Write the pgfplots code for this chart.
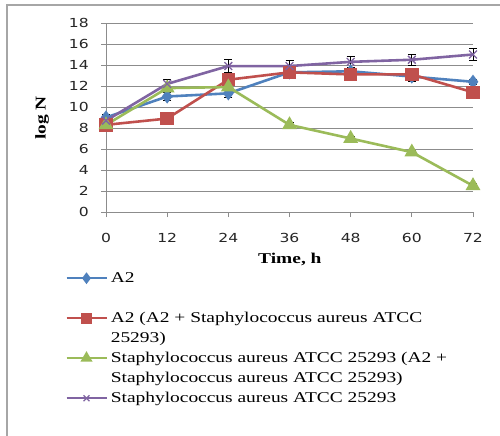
\documentclass[border=0pt]{standalone}
\usepackage{pgfplots}
\pgfplotsset{compat=1.18}
\usepackage{fontspec}
\setmainfont{Liberation Serif}[FakeStretch=1.3]
\newfontfamily\tickfont{DejaVu Sans}[FakeStretch=1.25]
\definecolor{sblue}{HTML}{4F81BD}
\definecolor{sred}{HTML}{C0504D}
\definecolor{sgreen}{HTML}{9BBB59}
\definecolor{spurple}{HTML}{8064A2}
\definecolor{gridgray}{HTML}{8C8C8C}
\pgfplotstableread{
x y e
0 9.0 0.3
12 11.0 0.4
24 11.3 0.4
36 13.3 0.2
48 13.4 0.2
60 12.9 0.5
72 12.4 0.2
}\blueA
\pgfplotstableread{
x y e
0 8.3 0.0
12 8.9 0.0
24 12.6 0.0
36 13.3 0.2
48 13.1 0.3
60 13.1 0.3
72 11.4 0.0
}\redB
\pgfplotstableread{
x y e
0 8.3 0.2
12 11.8 0.2
24 11.9 0.2
36 8.3 0.2
48 7.0 0.2
60 5.7 0.2
72 2.5 0.2
}\greenC
\pgfplotstableread{
x y e
0 8.7 0.2
12 12.2 0.4
24 13.9 0.6
36 13.9 0.5
48 14.3 0.5
60 14.5 0.5
72 15.0 0.6
}\purpleD
\begin{document}
\begin{tikzpicture}
\path[use as bounding box] (0,0) rectangle (500bp,436bp);
\fill[white] (0,0) rectangle (500bp,436bp);
\draw[gray!70, line width=1.2bp] (7bp,0) -- (7bp,431bp) -- (500bp,431bp);
\begin{axis}[
  at={(106bp,224bp)}, anchor=south west,
  scale only axis, width=367bp, height=189bp,
  xmin=0, xmax=72, ymin=0, ymax=18,
  xtick={0,12,...,72}, ytick={0,2,...,18},
  axis lines*=left,
  axis line style={draw=gridgray, line width=0.9pt},
  ymajorgrids, grid style={gridgray, line width=0.9pt},
  tick align=outside, major tick length=5bp,
  tick style={gridgray, line width=0.9pt},
  clip=false,
  /pgf/number format/assume math mode=true,
  ticklabel style={font=\tickfont\fontsize{12.5}{14}\selectfont, text=black!85},
  yticklabel style={inner sep=0pt, xshift=-12bp},
  xticklabel style={inner sep=0pt, yshift=-16bp},
  xlabel={\textbf{Time, h}},
  ylabel={\textbf{log N}},
  label style={font=\fontsize{15}{18}\selectfont},
  xlabel style={at={(axis description cs:0.501,-0.252)}, anchor=center},
  ylabel style={at={(axis description cs:-0.174,0.497)}, anchor=center},
  legend image code/.code={\draw[mark repeat=2,mark phase=2,#1,every mark/.append style={scale=0.75}] plot coordinates {(0bp,0bp)(20bp,0bp)(40bp,0bp)};},
  legend cell align=left,
  legend style={at={(axis description cs:-0.1117,-0.2963)}, anchor=north west,
    draw=none, fill=none, inner sep=0pt, row sep=0pt, column sep=3bp,
    font=\fontsize{15}{18}\selectfont,
    nodes={inner sep=0pt, text height=14bp, text depth=6bp}},
  every axis plot/.append style={line width=2.6pt,
    error bars/y dir=both, error bars/y explicit,
    error bars/error bar style={black, line width=0.8pt, solid},
    error bars/error mark options={rotate=90, mark size=4bp, black, line width=0.8pt}},
]
\addplot[sblue, mark=diamond*, mark size=5bp, mark options={solid}] table[x=x, y=y, y error=e] {\blueA};
\addlegendentry{A2}
\addlegendimage{empty legend}
\addlegendentry{\strut}
\addplot[sred, mark=square*, mark size=5.5bp] table[x=x, y=y, y error=e] {\redB};
\addlegendentry{A2 (A2 + Staphylococcus aureus ATCC}
\addlegendimage{empty legend}
\addlegendentry{25293)}
\addplot[sgreen, mark=triangle*, mark size=6bp] table[x=x, y=y, y error=e] {\greenC};
\addlegendentry{Staphylococcus aureus ATCC 25293 (A2 +}
\addlegendimage{empty legend}
\addlegendentry{Staphylococcus aureus ATCC 25293)}
\addplot[spurple, mark=x, mark size=5.5bp, mark options={line width=1.3pt}] table[x=x, y=y, y error=e] {\purpleD};
\addlegendentry{Staphylococcus aureus ATCC 25293}
\end{axis}
\end{tikzpicture}
\end{document}
